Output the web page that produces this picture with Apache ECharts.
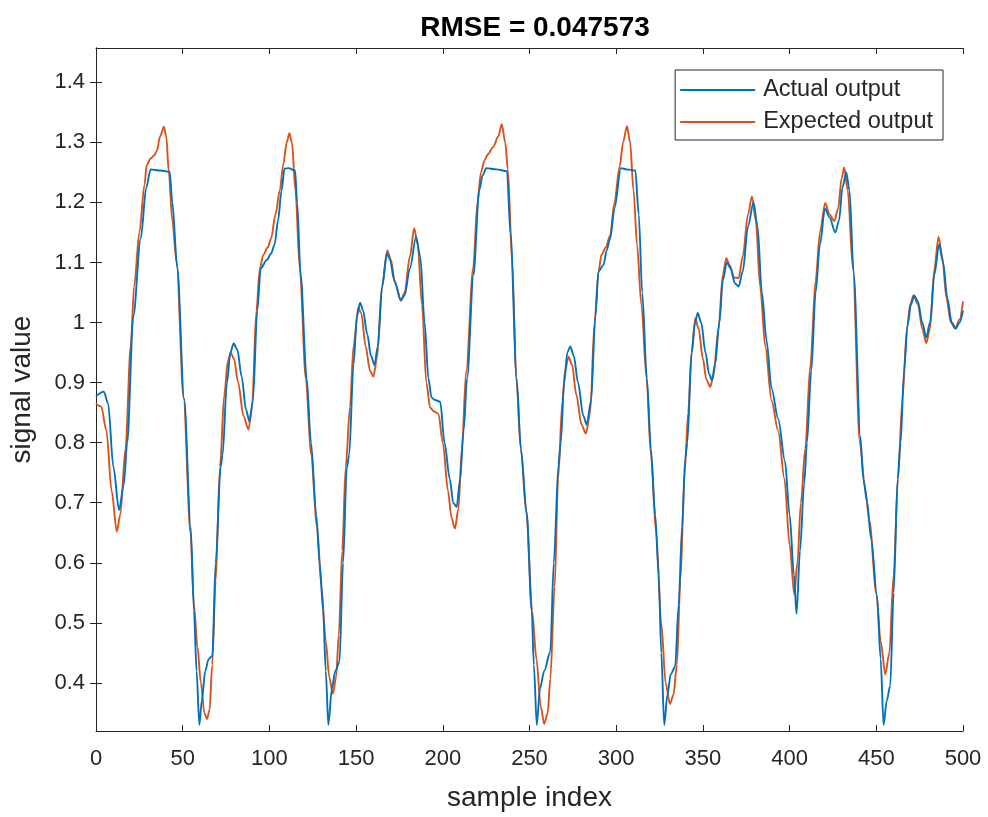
<!DOCTYPE html>
<html>
<head>
<meta charset="utf-8">
<title>RMSE = 0.047573</title>
<script src="https://cdn.jsdelivr.net/npm/echarts@6/dist/echarts.min.js"></script>
<style>
  html, body { margin: 0; padding: 0; background: #ffffff; }
  #chart { width: 988px; height: 817px; }
</style>
</head>
<body>
<div id="chart"></div>
<script>
// Network output vs. target signal, sampled at the listed indices
const actualIdx = [0,4.5,7,10,13.3,16,18,21.5,25.8,29,31.5,37,42.5,44,46.9,50.8,54.6,56.5,58,59.6,61,63,65,67.1,69,71.9,73,75.5,77.5,79.4,81.5,84,86.5,88.5,90.5,93,95,98.5,101,103,105,107,108.7,111,114.8,116,118,121.5,124,127,129,131,132.5,134,136,138,140.4,142.5,144.6,146,148.5,150.5,152.3,154,156.5,158.5,160.6,162.5,165,167.7,169.5,172,175.8,178,181,184.6,187,189.5,191.7,193.5,195.5,198.5,201,204,206,208,210,212,214,217.7,221,223,225,231,237,239,242.6,245,248.3,251.3,252.5,254.2,256,258.5,262,264,266.7,268,270,271.8,273.5,275.5,278,281,283,285.5,288,289.8,292.7,294.5,296.5,299,302.7,306,311,313,315,317.7,320,322.5,324.5,326,327.7,329.5,331.5,334,336,338,339.8,341,343.5,345.5,347,349,351.5,353.5,355.2,357,359.5,361.5,363.8,366,368.5,370.6,373,376,379.2,381.5,384,386.7,389.6,393.4,397.3,400,402.5,404,406,408.4,410,412.5,415,417.5,420.4,423,426.4,428.5,430.5,432.7,434.5,437,440.8,442.5,444.6,447,450.4,452.5,454.2,456,458,460,462.3,464,466,468,470,471.8,474,476.5,478.8,481,483.5,486.2,488.5,491,493.5,495.8,498,500];
const actualVal = [0.877,0.885,0.865,0.76,0.688,0.73,0.80,1.01,1.14,1.225,1.255,1.253,1.251,1.2,1.09,0.873,0.66,0.52,0.42,0.33,0.37,0.42,0.44,0.445,0.6,0.76,0.78,0.9,0.95,0.965,0.955,0.91,0.855,0.835,0.87,1.02,1.09,1.104,1.115,1.13,1.17,1.22,1.256,1.257,1.253,1.2,1.08,0.907,0.8,0.68,0.6,0.52,0.42,0.33,0.39,0.42,0.435,0.6,0.757,0.78,0.93,1.01,1.033,1.02,0.98,0.945,0.929,0.96,1.06,1.115,1.105,1.07,1.038,1.045,1.09,1.143,1.11,1.0,0.907,0.875,0.871,0.868,0.8,0.74,0.70,0.693,0.74,0.82,0.907,1.08,1.22,1.245,1.257,1.255,1.252,1.15,0.907,0.79,0.685,0.52,0.43,0.33,0.39,0.42,0.452,0.6,0.763,0.8,0.9,0.95,0.96,0.945,0.9,0.845,0.83,0.87,1.01,1.085,1.096,1.12,1.14,1.19,1.257,1.255,1.253,1.18,1.05,0.907,0.79,0.68,0.58,0.45,0.33,0.38,0.415,0.427,0.53,0.66,0.774,0.8,0.95,1.0,1.016,1.0,0.95,0.915,0.904,0.93,1.0,1.07,1.1,1.09,1.065,1.06,1.085,1.16,1.2,1.16,1.05,0.97,0.89,0.84,0.77,0.68,0.58,0.515,0.62,0.732,0.8,0.92,1.05,1.13,1.19,1.175,1.15,1.17,1.225,1.25,1.22,1.08,0.81,0.74,0.703,0.64,0.545,0.44,0.33,0.37,0.395,0.55,0.74,0.8,0.92,0.995,1.03,1.045,1.035,1.0,0.975,1.0,1.08,1.13,1.1,1.04,1.0,0.99,1.0,1.02];

const expectedIdx = [0,3,6,9,12,14,17,20,22,25,28,29.2,31.5,33.5,35,37,39.2,40.5,42,44,46.5,50.5,54.5,56.5,58.5,60.5,62.5,64,65.5,67,69,71.5,74,76,77.7,79.5,82,85,87.9,90,92.5,94.5,96.5,99,101,103.5,106,108,110,111.5,113,115,117.5,121,124,127.5,130,132.5,134.5,136.6,138.5,140,142,144,146.5,148.5,151.3,153,155.5,158,160,162,165,168,170,172.5,175.8,178,181,183.5,185.5,188,190.5,192.7,195,197.5,200,203,205,207,209,211,213.5,217.5,220,222,224,226,229,232,234,236,237.5,240,242.5,245,248.3,251.5,254,256.5,258.5,260.5,262,264.5,266.5,269,270.5,272.5,274.5,277,280,282.5,285,287.5,289.8,291.5,294,296.5,299,302,304,306.2,308,310,312,314.5,317.5,320,323,326,328.5,331,333,335,337,339.5,341.5,343.5,345.6,347.5,350,352,354.2,356,359,361.5,363.5,365.5,368,370.6,373,376,378.3,380.5,383,386,389.6,393.4,397,400,402.7,404.5,406.5,409,412,415,417.5,420.5,423,425.8,428,430,431.5,433.5,436.5,440.5,443.5,446,450,452.5,455.2,457.5,460,462.5,465,467.7,469.5,471.5,474,476.5,478.8,481,483.5,485.9,488,490.5,493,495.5,498,500];
const expectedVal = [0.865,0.86,0.82,0.72,0.652,0.68,0.79,0.96,1.06,1.15,1.23,1.262,1.273,1.278,1.285,1.31,1.326,1.31,1.25,1.17,1.1,0.875,0.65,0.53,0.46,0.4,0.35,0.34,0.355,0.43,0.57,0.76,0.88,0.935,0.95,0.94,0.9,0.845,0.822,0.86,1.02,1.09,1.113,1.125,1.14,1.18,1.22,1.263,1.3,1.315,1.3,1.22,1.09,0.907,0.78,0.66,0.56,0.47,0.41,0.382,0.41,0.48,0.62,0.76,0.86,0.96,1.025,1.015,0.96,0.92,0.91,0.94,1.06,1.12,1.105,1.065,1.036,1.05,1.11,1.157,1.13,1.03,0.9,0.858,0.852,0.848,0.8,0.72,0.675,0.657,0.69,0.79,0.92,1.09,1.2,1.25,1.27,1.28,1.292,1.31,1.33,1.3,1.255,1.1,0.9,0.79,0.68,0.52,0.44,0.36,0.332,0.35,0.407,0.56,0.74,0.87,0.92,0.943,0.93,0.88,0.83,0.815,0.85,1.0,1.085,1.113,1.125,1.145,1.2,1.26,1.3,1.327,1.3,1.22,1.13,1.03,0.907,0.78,0.65,0.5,0.4,0.365,0.38,0.43,0.57,0.75,0.85,0.95,1.007,0.99,0.94,0.905,0.893,0.91,0.99,1.08,1.107,1.095,1.075,1.074,1.11,1.18,1.21,1.17,1.06,0.96,0.87,0.82,0.74,0.63,0.547,0.6,0.7,0.79,0.93,1.07,1.15,1.199,1.18,1.169,1.19,1.24,1.258,1.22,1.09,0.8,0.725,0.67,0.55,0.47,0.414,0.45,0.58,0.74,0.87,0.99,1.03,1.045,1.03,0.99,0.966,0.99,1.09,1.143,1.11,1.04,1.0,0.99,1.005,1.035];

const xTicks = [0, 50, 100, 150, 200, 250, 300, 350, 400, 450, 500];
const yTicks = [0.4, 0.5, 0.6, 0.7, 0.8, 0.9, 1, 1.1, 1.2, 1.3, 1.4];
const yTickLabels = ['0.4', '0.5', '0.6', '0.7', '0.8', '0.9', '1', '1.1', '1.2', '1.3', '1.4'];

const zip = (xs, ys) => xs.map((x, k) => [x, ys[k]]);

const AXIS_COLOR = '#262626';
const FONT = 'Liberation Sans, Arial, Helvetica, sans-serif';

const chart = echarts.init(document.getElementById('chart'), null, { renderer: 'canvas' });

const tickStyle = { inside: true, length: 6, lineStyle: { color: AXIS_COLOR, width: 1 } };
const lineStyleAxis = { show: true, lineStyle: { color: AXIS_COLOR, width: 1 } };

chart.setOption({
  backgroundColor: '#ffffff',
  animation: false,
  title: {
    text: 'RMSE = 0.047573',
    left: 530,
    top: 9,
    textAlign: 'center',
    textStyle: { fontFamily: FONT, fontSize: 28, fontWeight: 'bold', color: '#000000' }
  },
  legend: {
    orient: 'vertical',
    right: 45,
    top: 70,
    backgroundColor: '#ffffff',
    borderColor: AXIS_COLOR,
    borderWidth: 1,
    borderRadius: 0,
    padding: [7, 10, 5, 5],
    itemWidth: 75,
    itemHeight: 2,
    itemGap: 6,
    icon: 'rect',
    textStyle: { fontFamily: FONT, fontSize: 23.5, color: AXIS_COLOR, lineHeight: 26, padding: [0, 0, 0, 3] },
    data: ['Actual output', 'Expected output']
  },
  grid: { left: 96, right: 25, top: 48, bottom: 84, containLabel: false },
  xAxis: [
    {
      type: 'value', min: 0, max: 500, interval: 50,
      name: 'sample index', nameLocation: 'middle', nameGap: 53,
      nameTextStyle: { fontFamily: FONT, fontSize: 28, color: AXIS_COLOR },
      axisLine: lineStyleAxis,
      axisTick: tickStyle,
      axisLabel: { fontFamily: FONT, fontSize: 22, color: AXIS_COLOR, margin: 17, customValues: xTicks },
      splitLine: { show: false }
    },
    {
      type: 'value', position: 'top', min: 0, max: 500, interval: 50,
      axisLine: lineStyleAxis, axisTick: tickStyle,
      axisLabel: { show: false }, splitLine: { show: false }
    }
  ],
  yAxis: [
    {
      type: 'value', min: 0.32, max: 1.457,
      name: 'signal value', nameLocation: 'middle', nameGap: 60, nameRotate: 90,
      nameTextStyle: { fontFamily: FONT, fontSize: 28, color: AXIS_COLOR },
      axisLine: lineStyleAxis,
      axisTick: Object.assign({ customValues: yTicks }, tickStyle),
      axisLabel: {
        fontFamily: FONT, fontSize: 22, color: AXIS_COLOR, margin: 11,
        customValues: yTicks,
        formatter: v => yTickLabels[yTicks.findIndex(t => Math.abs(t - v) < 1e-9)] ?? ''
      },
      splitLine: { show: false }
    },
    {
      type: 'value', position: 'right', min: 0.32, max: 1.457,
      axisLine: lineStyleAxis,
      axisTick: Object.assign({ customValues: yTicks }, tickStyle),
      axisLabel: { show: false }, splitLine: { show: false }
    }
  ],
  series: [
    {
      name: 'Actual output', type: 'line', xAxisIndex: 0, yAxisIndex: 0,
      data: zip(actualIdx, actualVal),
      symbol: 'none', smooth: 0.3, smoothMonotone: 'x',
      color: '#0072BD',
      lineStyle: { color: '#0072BD', width: 1.9 },
      z: 3
    },
    {
      name: 'Expected output', type: 'line', xAxisIndex: 0, yAxisIndex: 0,
      data: zip(expectedIdx, expectedVal),
      symbol: 'none', smooth: 0.3, smoothMonotone: 'x',
      color: '#D95319',
      lineStyle: { color: '#D95319', width: 1.9 },
      z: 2
    }
  ]
});
</script>
</body>
</html>
